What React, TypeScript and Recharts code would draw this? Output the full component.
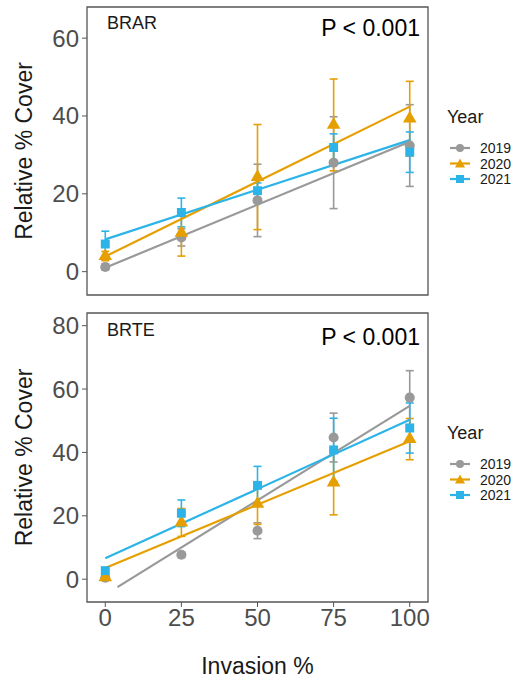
import {
  ComposedChart,
  ErrorBar,
  Line,
  ReferenceArea,
  Scatter,
  XAxis,
  YAxis,
  ZAxis,
} from 'recharts';

const invasion = [0, 25, 50, 75, 100];
const years = ['2019', '2020', '2021'];
const colors = ['#999999', '#E69F00', '#2CB4E8'];
const shapes = ['circle', 'triangle', 'square'] as const;

// BRAR panel
const brarMean2019 = [1.2, 8.8, 18.3, 28.0, 32.4];
const brarErr2019 = [0.8, 2.2, 9.3, 11.8, 10.5];
const brarMean2020 = [4.0, 10.0, 24.3, 37.7, 39.3];
const brarErr2020 = [1.2, 6.0, 13.5, 11.8, 9.6];
const brarMean2021 = [7.1, 15.2, 20.8, 31.9, 30.7];
const brarErr2021 = [3.3, 3.7, 2.0, 3.5, 5.2];
const brarFit2019 = [[0, 1.0], [100, 33.4]];
const brarFit2020 = [[0, 3.9], [100, 42.4]];
const brarFit2021 = [[0, 8.3], [100, 33.8]];

// BRTE panel
const brteMean2019 = [0.5, 7.7, 15.3, 44.7, 57.3];
const brteErr2019 = [0.5, 0.8, 2.5, 7.7, 8.5];
const brteMean2020 = [0.6, 17.9, 23.8, 30.5, 44.2];
const brteErr2020 = [0.5, 4.4, 6.5, 10.2, 6.5];
const brteMean2021 = [2.7, 20.8, 29.6, 40.8, 47.7];
const brteErr2021 = [0.8, 4.2, 6.0, 10.0, 7.9];
const brteFit2019 = [[4, -2.5], [100, 54.7]];
const brteFit2020 = [[0, 3.5], [100, 43.5]];
const brteFit2021 = [[0, 6.6], [100, 50.3]];

const xTicks = [0, 25, 50, 75, 100];
const xDomain = [-6, 106];

const toPoints = (mean: number[], err: number[]) =>
  invasion.map((x, i) => ({ x, y: mean[i], err: err[i] }));
const toLine = (fit: number[][]) => fit.map(([x, y]) => ({ x, y }));

const tickStyle = { fill: '#4d4d4d', fontSize: 24 };
const border = '#555555';

const YTitle = (props: any) => {
  const { viewBox } = props;
  const cx = viewBox.x + 24;
  const cy = viewBox.y + viewBox.height / 2;
  return (
    <text
      x={cx}
      y={cy}
      transform={`rotate(-90 ${cx} ${cy})`}
      textAnchor="middle"
      dominantBaseline="central"
      fontSize={23}
      fill="#1a1a1a"
    >
      Relative % Cover
    </text>
  );
};

const XTitle = (props: any) => {
  const { viewBox } = props;
  return (
    <text
      x={viewBox.x + viewBox.width / 2}
      y={viewBox.y + 64}
      textAnchor="middle"
      dominantBaseline="central"
      fontSize={23}
      fill="#1a1a1a"
    >
      Invasion %
    </text>
  );
};

type PanelProps = {
  height: number;
  margin: { top: number; right: number; bottom: number; left: number };
  yDomain: number[];
  yTicks: number[];
  means: number[][];
  errs: number[][];
  fits: number[][][];
  bottomAxis: boolean;
};

const Panel = ({ height, margin, yDomain, yTicks, means, errs, fits, bottomAxis }: PanelProps) => (
  <ComposedChart width={522} height={height} margin={margin}>
    <XAxis
      type="number"
      dataKey="x"
      domain={xDomain}
      ticks={xTicks}
      allowDataOverflow
      axisLine={false}
      tickLine={{ stroke: border }}
      tickSize={5}
      tick={bottomAxis ? tickStyle : false}
      height={bottomAxis ? 77 : 5}
      label={bottomAxis ? XTitle : undefined}
    />
    <YAxis
      type="number"
      dataKey="y"
      domain={yDomain}
      ticks={yTicks}
      allowDataOverflow
      axisLine={false}
      tickLine={{ stroke: border }}
      tickSize={5}
      tickMargin={3}
      tick={tickStyle}
      width={87}
      label={YTitle}
    />
    <ZAxis range={[80, 80]} />
    <ReferenceArea
      x1={xDomain[0]}
      x2={xDomain[1]}
      y1={yDomain[0]}
      y2={yDomain[1]}
      fill="none"
      stroke={border}
      strokeWidth={1.3}
    />
    {years.map((yr, i) => (
      <Scatter
        key={`pts-${yr}`}
        name={yr}
        data={toPoints(means[i], errs[i])}
        fill={colors[i]}
        shape={shapes[i]}
        isAnimationActive={false}
      >
        <ErrorBar
          dataKey="err"
          direction="y"
          width={4}
          stroke={colors[i]}
          strokeWidth={1.6}
          isAnimationActive={false}
        />
      </Scatter>
    ))}
    {years.map((yr, i) => (
      <Line
        key={`fit-${yr}`}
        data={toLine(fits[i])}
        dataKey="y"
        type="linear"
        stroke={colors[i]}
        strokeWidth={2.2}
        dot={false}
        activeDot={false}
        isAnimationActive={false}
      />
    ))}
  </ComposedChart>
);

const KeyShape = ({ i, cx, cy }: { i: number; cx: number; cy: number }) => {
  if (i === 0) return <circle cx={cx} cy={cy} r={4} fill={colors[i]} />;
  if (i === 1)
    return <polygon points={`${cx},${cy - 5} ${cx + 5},${cy + 4} ${cx - 5},${cy + 4}`} fill={colors[i]} />;
  return <rect x={cx - 4} y={cy - 4} width={8} height={8} fill={colors[i]} />;
};

const YearLegend = ({ top }: { top: number }) => (
  <g>
    <text x={447} y={top} fontSize={18} fill="#1a1a1a" dominantBaseline="central">
      Year
    </text>
    {years.map((yr, i) => {
      const cy = top + 31 + i * 15.5;
      return (
        <g key={yr}>
          <line x1={450} x2={470} y1={cy} y2={cy} stroke={colors[i]} strokeWidth={2.2} />
          <KeyShape i={i} cx={460} cy={cy} />
          <text x={480} y={cy} fontSize={14} fill="#1a1a1a" dominantBaseline="central">
            {yr}
          </text>
        </g>
      );
    })}
  </g>
);

export default function App() {
  return (
    <div
      style={{
        position: 'absolute',
        left: 0,
        top: 0,
        width: 522,
        height: 679,
        background: '#fff',
        fontFamily: '"Liberation Sans", Arial, sans-serif',
      }}
    >
      <div style={{ position: 'absolute', left: 0, top: 0 }}>
        <Panel
          height={300}
          margin={{ top: 7, right: 94, bottom: 0, left: 0 }}
          yDomain={[-6, 68]}
          yTicks={[0, 20, 40, 60]}
          means={[brarMean2019, brarMean2020, brarMean2021]}
          errs={[brarErr2019, brarErr2020, brarErr2021]}
          fits={[brarFit2019, brarFit2020, brarFit2021]}
          bottomAxis={false}
        />
      </div>
      <div style={{ position: 'absolute', left: 0, top: 300 }}>
        <Panel
          height={379}
          margin={{ top: 13, right: 94, bottom: 0, left: 0 }}
          yDomain={[-7.2, 84]}
          yTicks={[0, 20, 40, 60, 80]}
          means={[brteMean2019, brteMean2020, brteMean2021]}
          errs={[brteErr2019, brteErr2020, brteErr2021]}
          fits={[brteFit2019, brteFit2020, brteFit2021]}
          bottomAxis
        />
      </div>
      <svg
        width={522}
        height={679}
        style={{ position: 'absolute', left: 0, top: 0, pointerEvents: 'none' }}
      >
        <text x={107} y={23} fontSize={18} fill="#1a1a1a" dominantBaseline="central">
          BRAR
        </text>
        <text x={420} y={28} fontSize={23} fill="#000" textAnchor="end" dominantBaseline="central">
          P &lt; 0.001
        </text>
        <text x={107} y={330} fontSize={18} fill="#1a1a1a" dominantBaseline="central">
          BRTE
        </text>
        <text x={420} y={337} fontSize={23} fill="#000" textAnchor="end" dominantBaseline="central">
          P &lt; 0.001
        </text>
        <YearLegend top={117} />
        <YearLegend top={433} />
      </svg>
    </div>
  );
}
